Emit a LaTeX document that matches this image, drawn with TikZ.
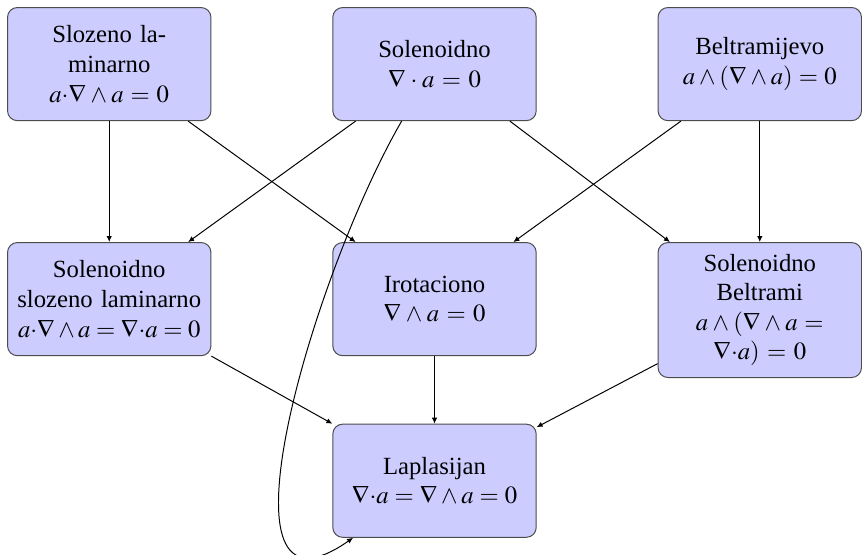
\documentclass[tikz,border=0pt]{standalone}
\usepackage{mathptmx}
\usepackage{fontspec}
\setmainfont{Liberation Serif}
\usepackage{tikz}
\usetikzlibrary{positioning,arrows.meta}

\begin{document}
\begin{tikzpicture}[node distance=1.72cm,
  box/.style={draw=black!70, fill=blue!20, rounded corners=4pt, text width=2.66cm, align=center, minimum height=1.61cm},
  arr/.style={-{Latex[length=2.4pt,width=2.2pt]}}]
  \node[box] (sl) {Slozeno la-\\minarno\\$a{\cdot}\nabla\wedge a=0$};
  \node[box, right=of sl] (sol) {Solenoidno\\$\nabla\cdot a=0$};
  \node[box, right=of sol] (bel) {Beltramijevo\\$a\wedge(\nabla\wedge a)=0$};
  \node[box, below=of sl] (ssl) {Solenoidno\\slozeno laminarno\\$a{\cdot}\nabla\wedge a=\nabla{\cdot}a=0$};
  \node[box, below=of sol] (irot) {Irotaciono\\$\nabla\wedge a=0$};
  \node[box, below=of bel, inner ysep=4.6pt] (sbel) {Solenoidno\\Beltrami\\$a\wedge(\nabla\wedge a=$\\$\nabla{\cdot}a)=0$};
  \node[box, below=0.96cm of irot] (lap) {Laplasijan\\$\nabla{\cdot}a=\nabla\wedge a=0$};
  \useasboundingbox ([shift={(-0.1,0.1)}]sl.north west) rectangle ++(12.12,-7.89);
  % veze
  \draw[arr] (sl) -- (ssl);
  \draw[arr] (sl) -- (irot);
  \draw[arr] (sol) -- (ssl);
  \draw[arr] (sol) -- (sbel);
  \draw[arr] (bel) -- (irot);
  \draw[arr] (bel) -- (sbel);
  \draw[arr] (ssl) -- (lap);
  \draw[arr] (irot) -- (lap);
  \draw[arr] (sbel) -- (lap);
  \draw[arr] (sol) to[out=-120, in=-145, looseness=1.1] (lap);
\end{tikzpicture}
\end{document}
